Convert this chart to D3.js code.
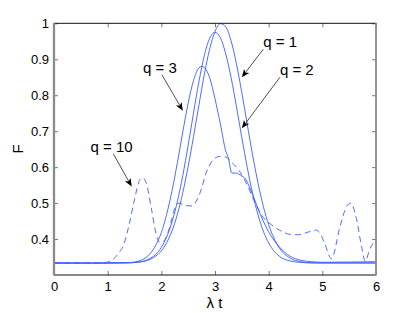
<!DOCTYPE html>
<html>
<head>
<meta charset="UTF-8">
<title>F vs λt</title>
<script src="https://d3js.org/d3.v7.min.js"></script>
<style>
  body { margin: 0; background: #fff; }
  svg { display: block; font-family: "Liberation Sans", Arial, Helvetica, sans-serif; }
</style>
</head>
<body>
<svg id="chart" width="415" height="313"></svg>
<script>
// solid curves, sampled on a common grid of lambda*t
const tGrid = [0, 1.0, 1.4, 1.6, 1.8, 1.9, 2.0, 2.1, 2.2, 2.3, 2.4, 2.5, 2.6, 2.7, 2.8, 2.9,
               3.0, 3.1, 3.2, 3.3, 3.4, 3.5, 3.6, 3.7, 3.8, 3.9, 4.0, 4.2, 4.4, 4.6, 4.8, 5.0, 5.5, 6.0];
const q1 = [0.3333, 0.3333, 0.3339, 0.3361, 0.344, 0.353, 0.367, 0.390, 0.423, 0.469, 0.529, 0.602,
            0.685, 0.772, 0.857, 0.928, 0.977, 0.999, 0.990, 0.951, 0.887, 0.807, 0.720, 0.634,
            0.557, 0.491, 0.440, 0.375, 0.347, 0.337, 0.334, 0.3335, 0.3335, 0.3335];
const q2 = [0.3333, 0.3333, 0.334, 0.3366, 0.347, 0.358, 0.377, 0.406, 0.448, 0.505, 0.577, 0.661,
            0.751, 0.837, 0.910, 0.958, 0.975, 0.960, 0.915, 0.849, 0.768, 0.682, 0.600, 0.527,
            0.468, 0.422, 0.389, 0.352, 0.339, 0.335, 0.3335, 0.3335, 0.3335, 0.3335];

// q = 3 has its own grid (peak at 2.75 and the kink near 3.3)
const q3T = [0, 1.0, 1.4, 1.6, 1.8, 1.9, 2.0, 2.1, 2.2, 2.3, 2.4, 2.5, 2.6, 2.7, 2.75, 2.8, 2.9,
             3.0, 3.1, 3.2, 3.25, 3.31, 3.4, 3.5, 3.56, 3.65, 3.74, 3.8, 3.9, 4.0, 4.2, 4.4, 4.6, 4.8, 5.0, 5.5, 6.0];
const q3 = [0.3333, 0.3334, 0.3346, 0.340, 0.361, 0.384, 0.418, 0.469, 0.535, 0.613, 0.698, 0.778,
            0.841, 0.876, 0.880, 0.877, 0.849, 0.790, 0.720, 0.645, 0.625, 0.584, 0.583, 0.575,
            0.569, 0.542, 0.509, 0.485, 0.450, 0.420, 0.378, 0.352, 0.341, 0.337, 0.3355, 0.336, 0.337];

// dashed q = 10
const q10T = [0, 0.9, 1.0, 1.1, 1.2, 1.3, 1.4, 1.5, 1.6, 1.65, 1.72, 1.82, 1.91, 1.98, 2.05, 2.15,
              2.25, 2.32, 2.45, 2.57, 2.72, 2.85, 3.0, 3.1, 3.2, 3.3, 3.45, 3.6, 3.75, 3.9, 4.05,
              4.2, 4.4, 4.55, 4.75, 4.88, 4.95, 5.05, 5.17, 5.33, 5.45, 5.53, 5.63, 5.73, 5.8, 5.88, 6.0];
const q10 = [0.3333, 0.3335, 0.336, 0.343, 0.360, 0.385, 0.440, 0.510, 0.565, 0.570, 0.555, 0.480,
             0.410, 0.390, 0.395, 0.430, 0.485, 0.500, 0.493, 0.492, 0.528, 0.590, 0.625, 0.630,
             0.628, 0.615, 0.590, 0.550, 0.500, 0.460, 0.440, 0.425, 0.413, 0.412, 0.420, 0.425,
             0.418, 0.385, 0.345, 0.435, 0.490, 0.500, 0.460, 0.380, 0.338, 0.370, 0.400];

const xTicks = [0, 1, 2, 3, 4, 5, 6];
const yTicks = [0.4, 0.5, 0.6, 0.7, 0.8, 0.9, 1.0];
const yTickLabels = ["0.4", "0.5", "0.6", "0.7", "0.8", "0.9", "1"];

// annotations: label text, label anchor (t, F), arrow tail and head (t, F)
const noteText = ["q = 1", "q = 2", "q = 3", "q = 10"];
const notePos = [[3.90, 0.935], [4.21, 0.856], [1.66, 0.863], [0.68, 0.643]];
const arrowFrom = [[3.90, 0.928], [4.21, 0.850], [2.01, 0.857], [1.105, 0.637]];
const arrowTo = [[3.50, 0.850], [3.50, 0.708], [2.40, 0.757], [1.448, 0.546]];

const svg = d3.select("#chart");
const x = d3.scaleLinear().domain([0, 6]).range([54, 376]);
const y = d3.scaleLinear().domain([0.3, 1]).range([275, 23.3]);

const blue = "#3b5bff";
const line = d3.line().x(d => x(d[0])).y(d => y(d[1])).curve(d3.curveMonotoneX);

const plot = svg.append("g");
[q1, q2].forEach(vals => {
  plot.append("path")
    .attr("d", line(tGrid.map((t, i) => [t, vals[i]])))
    .attr("fill", "none").attr("stroke", blue).attr("stroke-width", 0.9);
});
plot.append("path")
  .attr("d", line(q3T.map((t, i) => [t, q3[i]])))
  .attr("fill", "none").attr("stroke", blue).attr("stroke-width", 0.9);
plot.append("path")
  .attr("d", line(q10T.map((t, i) => [t, q10[i]])))
  .attr("fill", "none").attr("stroke", blue).attr("stroke-width", 0.9)
  .attr("stroke-dasharray", "6,4");

// axes: inward ticks all round
const tickCol = "#555";
function styleAxis(g) {
  g.select(".domain").remove();
  g.selectAll(".tick line").attr("stroke", tickCol).attr("stroke-width", 0.8);
  g.selectAll(".tick text").attr("fill", "#000").attr("font-size", "13px")
    .attr("font-family", "Liberation Sans, Arial, sans-serif");
}
svg.append("g").attr("transform", "translate(0,275)")
  .call(d3.axisBottom(x).tickValues(xTicks).tickSize(-4).tickPadding(7).tickFormat(d3.format("d")))
  .call(styleAxis);
svg.append("g").attr("transform", "translate(0,23.3)")
  .call(d3.axisTop(x).tickValues(xTicks).tickSize(-4).tickFormat(""))
  .call(styleAxis);
svg.append("g").attr("transform", "translate(54,0)")
  .call(d3.axisLeft(y).tickValues(yTicks).tickSize(-4).tickPadding(5)
    .tickFormat((d, i) => yTickLabels[i]))
  .call(styleAxis);
svg.append("g").attr("transform", "translate(376,0)")
  .call(d3.axisRight(y).tickValues(yTicks).tickSize(-4).tickFormat(""))
  .call(styleAxis);

// box
svg.append("line").attr("x1", 54).attr("x2", 376).attr("y1", 23.3).attr("y2", 23.3)
  .attr("stroke", "#111").attr("stroke-width", 1);
svg.append("line").attr("x1", 54).attr("x2", 376).attr("y1", 275).attr("y2", 275)
  .attr("stroke", "#111").attr("stroke-width", 1.2);
svg.append("line").attr("x1", 54).attr("x2", 54).attr("y1", 22.8).attr("y2", 275.5)
  .attr("stroke", "#8a8a8a").attr("stroke-width", 2.3);
svg.append("line").attr("x1", 376).attr("x2", 376).attr("y1", 22.8).attr("y2", 275.5)
  .attr("stroke", "#8a8a8a").attr("stroke-width", 1.8);

// axis titles
svg.append("text").attr("x", 214.5).attr("y", 308).attr("text-anchor", "middle")
  .attr("font-size", "15px").text("λ t");
svg.append("text").attr("transform", "translate(23,149) rotate(-90)")
  .attr("text-anchor", "middle").attr("font-size", "15px").text("F");

// annotation arrows
function arrow(p0, p1) {
  const x0 = x(p0[0]), y0 = y(p0[1]), x1 = x(p1[0]), y1 = y(p1[1]);
  const a = Math.atan2(y1 - y0, x1 - x0);
  const len = 8, half = 3.3, back = 6;
  const ux = Math.cos(a), uy = Math.sin(a);
  svg.append("line").attr("x1", x0).attr("y1", y0)
    .attr("x2", x1 - ux * back).attr("y2", y1 - uy * back)
    .attr("stroke", "#000").attr("stroke-width", 0.7);
  const bx = x1 - ux * len, by = y1 - uy * len;
  const pts = [
    [x1, y1],
    [bx - uy * half, by + ux * half],
    [x1 - ux * back, y1 - uy * back],
    [bx + uy * half, by - ux * half]
  ];
  svg.append("path").attr("d", "M" + pts.map(p => p.join(",")).join("L") + "Z")
    .attr("fill", "#000");
}
noteText.forEach((txt, i) => {
  arrow(arrowFrom[i], arrowTo[i]);
  svg.append("text").attr("x", x(notePos[i][0])).attr("y", y(notePos[i][1]))
    .attr("font-size", "15px").text(txt);
});
</script>
</body>
</html>
